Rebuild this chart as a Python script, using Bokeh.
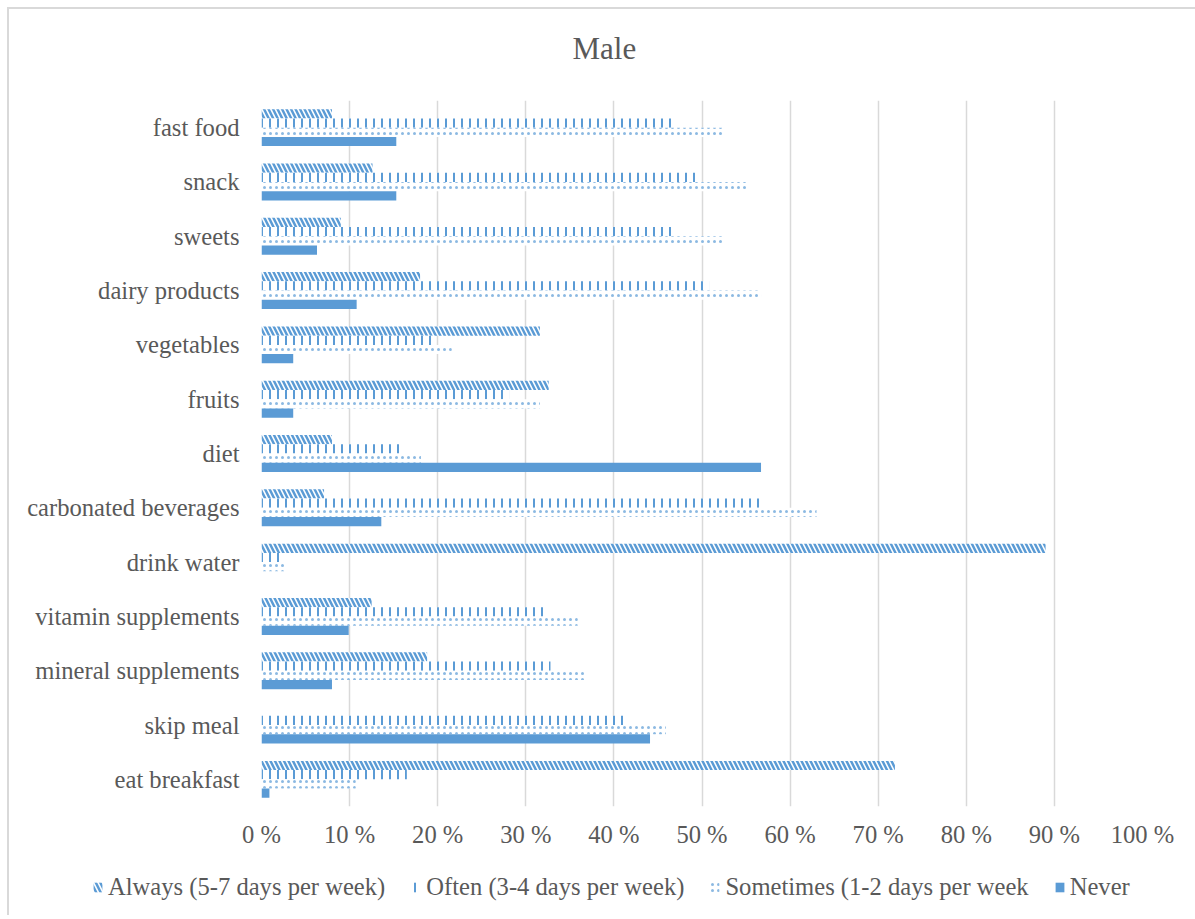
from bokeh.plotting import figure
from bokeh.layouts import column
from bokeh.models import (FactorRange, FixedTicker, Legend, LegendItem,
                          ColumnDataSource)
from bokeh.transform import dodge
from bokeh.embed import file_html
from bokeh.resources import INLINE

# Eating habits of male respondents, share of answers per frequency (%)
categories = ["fast food", "snack", "sweets", "dairy products", "vegetables",
              "fruits", "diet", "carbonated beverages", "drink water",
              "vitamin supplements", "mineral supplements", "skip meal",
              "eat breakfast"]
always = [8.0, 12.6, 9.0, 18.0, 31.6, 32.6, 8.0, 7.1, 89.0, 12.5, 18.8, 0.0, 71.9]
often = [47.0, 49.5, 47.0, 50.8, 19.7, 28.1, 15.8, 56.6, 2.4, 32.3, 32.8, 41.3, 16.5]
sometimes = [52.3, 55.0, 52.3, 56.7, 21.6, 31.6, 18.1, 63.0, 2.7, 35.9, 36.9, 45.9, 10.7]
never = [15.3, 15.3, 6.3, 10.8, 3.6, 3.6, 56.7, 13.6, 0.0, 9.9, 8.0, 44.1, 0.9]

series_labels = ["Always (5-7 days per week)", "Often (3-4 days per week)",
                 "Sometimes (1-2 days per week", "Never"]
tick_values = [0, 10, 20, 30, 40, 50, 60, 70, 80, 90, 100]
tick_labels = ["0 %", "10 %", "20 %", "30 %", "40 %", "50 %", "60 %",
               "70 %", "80 %", "90 %", "100 %"]

BLUE = "#5B9BD5"
TEXT = "#595959"
GRID = "#D9D9D9"
FONT = "Liberation Serif"
FONT_SIZE = "24.6px"
WIDTH = 1186

# fill styles of the four answer series
styles = [
    dict(fill_color="white", line_color=None, hatch_pattern="left_diagonal_line",
         hatch_color=BLUE, hatch_scale=9, hatch_weight=2.5),
    dict(fill_color="white", line_color=None, hatch_pattern="vertical_line",
         hatch_color=BLUE, hatch_scale=8, hatch_weight=2),
    dict(fill_color="white", line_color=None, hatch_pattern="dot",
         hatch_color=BLUE, hatch_alpha=0.7, hatch_scale=6, hatch_weight=1.5),
    dict(fill_color=BLUE, line_color=None),
]
offsets = [0.255, 0.085, -0.085, -0.255]
fields = ["always", "often", "sometimes", "never"]


def blank_figure(height):
    f = figure(width=WIDTH, height=height, x_range=(0, 1), y_range=(0, 1),
               x_axis_type=None, y_axis_type=None,
               output_backend="svg", toolbar_location=None, min_border=0)
    f.outline_line_color = None
    f.xgrid.grid_line_color = None
    f.ygrid.grid_line_color = None
    f.frame_align = False
    return f


# title strip
head = blank_figure(91)
head.title.text = "Male"
head.title.align = "left"
head.title.offset = 563
head.title.standoff = 38
head.title.text_font = FONT
head.title.text_font_size = "31px"
head.title.text_font_style = "normal"
head.title.text_color = TEXT

# main chart
src = ColumnDataSource(dict(cat=categories, always=always, often=often,
                            sometimes=sometimes, never=never))

p = figure(width=WIDTH, height=760,
           y_range=FactorRange(factors=categories[::-1]),
           x_range=(0, 100),
           output_backend="svg", toolbar_location=None,
           min_border_left=252, min_border_right=WIDTH - 252 - 881,
           min_border_top=0, min_border_bottom=54)
p.frame_align = False

for field, off, st in zip(fields, offsets, styles):
    p.hbar(y=dodge("cat", off, range=p.y_range), right=field, left=0,
           height=0.17, source=src, **st)

p.xaxis.ticker = FixedTicker(ticks=tick_values)
p.xaxis.major_label_overrides = {v: s for v, s in zip(tick_values, tick_labels)}
for ax in (p.xaxis[0], p.yaxis[0]):
    ax.axis_line_color = None
    ax.major_tick_line_color = None
    ax.minor_tick_line_color = None
    ax.major_tick_out = 0
    ax.major_tick_in = 0
    ax.major_label_text_font = FONT
    ax.major_label_text_font_size = FONT_SIZE
    ax.major_label_text_color = TEXT
p.xaxis.major_label_standoff = 14
p.yaxis.major_label_standoff = 22

p.xgrid.grid_line_color = GRID
p.xgrid.grid_line_width = 1.5
p.ygrid.grid_line_color = None
p.outline_line_color = None

# legend strip with zero-length keys carrying the series styles
leg_fig = blank_figure(55)
key_src = ColumnDataSource(dict(y=[0.5], right=[0.0]))
keys = [leg_fig.hbar(y="y", right="right", left=0, height=0.1, source=key_src, **st)
        for st in styles]

legend = Legend(items=[LegendItem(label=lab, renderers=[r])
                       for lab, r in zip(series_labels, keys)],
                orientation="horizontal", location=(83, 14))
legend.label_text_font = FONT
legend.label_text_font_size = FONT_SIZE
legend.label_text_color = TEXT
legend.glyph_width = 11
legend.glyph_height = 12
legend.label_standoff = 5
legend.spacing = 25
legend.padding = 0
legend.margin = 0
legend.border_line_color = None
legend.background_fill_alpha = 0
leg_fig.add_layout(legend)

page = column(head, p, leg_fig, spacing=0)
page.styles = {"margin-left": "7px", "margin-top": "7px",
               "border-left": "2px solid #D9D9D9",
               "border-top": "2px solid #D9D9D9"}

open("out.html", "w").write(file_html(page, INLINE))
